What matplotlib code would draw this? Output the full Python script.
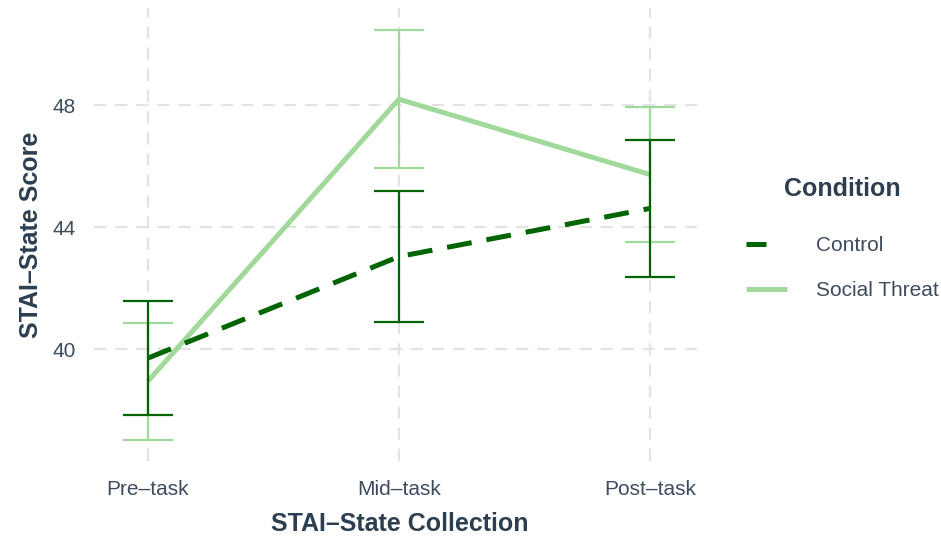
import matplotlib
matplotlib.use("Agg")
import matplotlib.pyplot as plt
from matplotlib.lines import Line2D

# STAI-State means and standard errors per collection point
timepoints = ["Pre\u2013task", "Mid\u2013task", "Post\u2013task"]
control_mean = [39.70, 43.03, 44.61]
control_se = [1.86, 2.14, 2.25]
threat_mean = [38.94, 48.19, 45.72]
threat_se = [1.93, 2.26, 2.22]
y_ticks = [40, 44, 48]

dark_green = "#006400"
light_green = "#A1D99B"
title_col = "#2C3E50"
tick_col = "#3E4C5E"
grid_col = "#E3E3E3"

plt.rcParams["font.family"] = ["Liberation Sans", "DejaVu Sans"]

fig = plt.figure(figsize=(9.41, 5.37), dpi=100)
ax = fig.add_axes([94 / 941, 1 - 461 / 537, (705 - 94) / 941, (461 - 8) / 537])

x = list(range(len(timepoints)))

# lines
ax.plot(x, threat_mean, color=light_green, lw=3.6, solid_capstyle="butt", zorder=3,
        label="Social Threat")
ax.plot(x, control_mean, color=dark_green, lw=3.6, dashes=(5, 3), dash_capstyle="butt",
        zorder=4, label="Control")

# error bars
ax.errorbar(x, threat_mean, yerr=threat_se, fmt="none", ecolor=light_green,
            elinewidth=1.6, capsize=18, capthick=1.6, zorder=5)
ax.errorbar(x, control_mean, yerr=control_se, fmt="none", ecolor=dark_green,
            elinewidth=1.6, capsize=18, capthick=1.6, zorder=6)

ax.set_xlim(-0.214, 2.219)
ax.set_ylim(36.33, 51.18)
ax.set_xticks(x)
ax.set_xticklabels(timepoints)
ax.set_yticks(y_ticks)
ax.set_yticklabels([str(t) for t in y_ticks])

for s in ax.spines.values():
    s.set_visible(False)
ax.tick_params(axis="both", length=0, labelsize=15, labelcolor=tick_col)
ax.tick_params(axis="y", pad=13)
ax.tick_params(axis="x", pad=14)

ax.grid(True, color=grid_col, lw=1.6, dashes=(5.5, 4))
ax.set_axisbelow(True)

ax.set_xlabel("STAI\u2013State Collection", fontsize=18, fontweight="bold",
              color=title_col, labelpad=9)
ax.set_ylabel("STAI\u2013State Score", fontsize=18, fontweight="bold",
              color=title_col, labelpad=7)

handles = [
    Line2D([], [], color=dark_green, lw=3.6, dashes=(4, 6), dash_capstyle="butt"),
    Line2D([], [], color=light_green, lw=3.6, solid_capstyle="butt"),
]
leg = fig.legend(handles, ["Control", "Social Threat"], loc="upper left",
                 bbox_to_anchor=(738 / 941, 1 - 169 / 537), frameon=False,
                 fontsize=15, title="Condition", handlelength=1.95,
                 handletextpad=1.4, labelspacing=1.25, borderaxespad=0)
leg.get_title().set_fontsize(18)
leg.get_title().set_fontweight("bold")
leg.get_title().set_color(title_col)
leg._legend_box.sep = 25
for t in leg.get_texts():
    t.set_color(tick_col)

fig.savefig("out.png", dpi=100)
